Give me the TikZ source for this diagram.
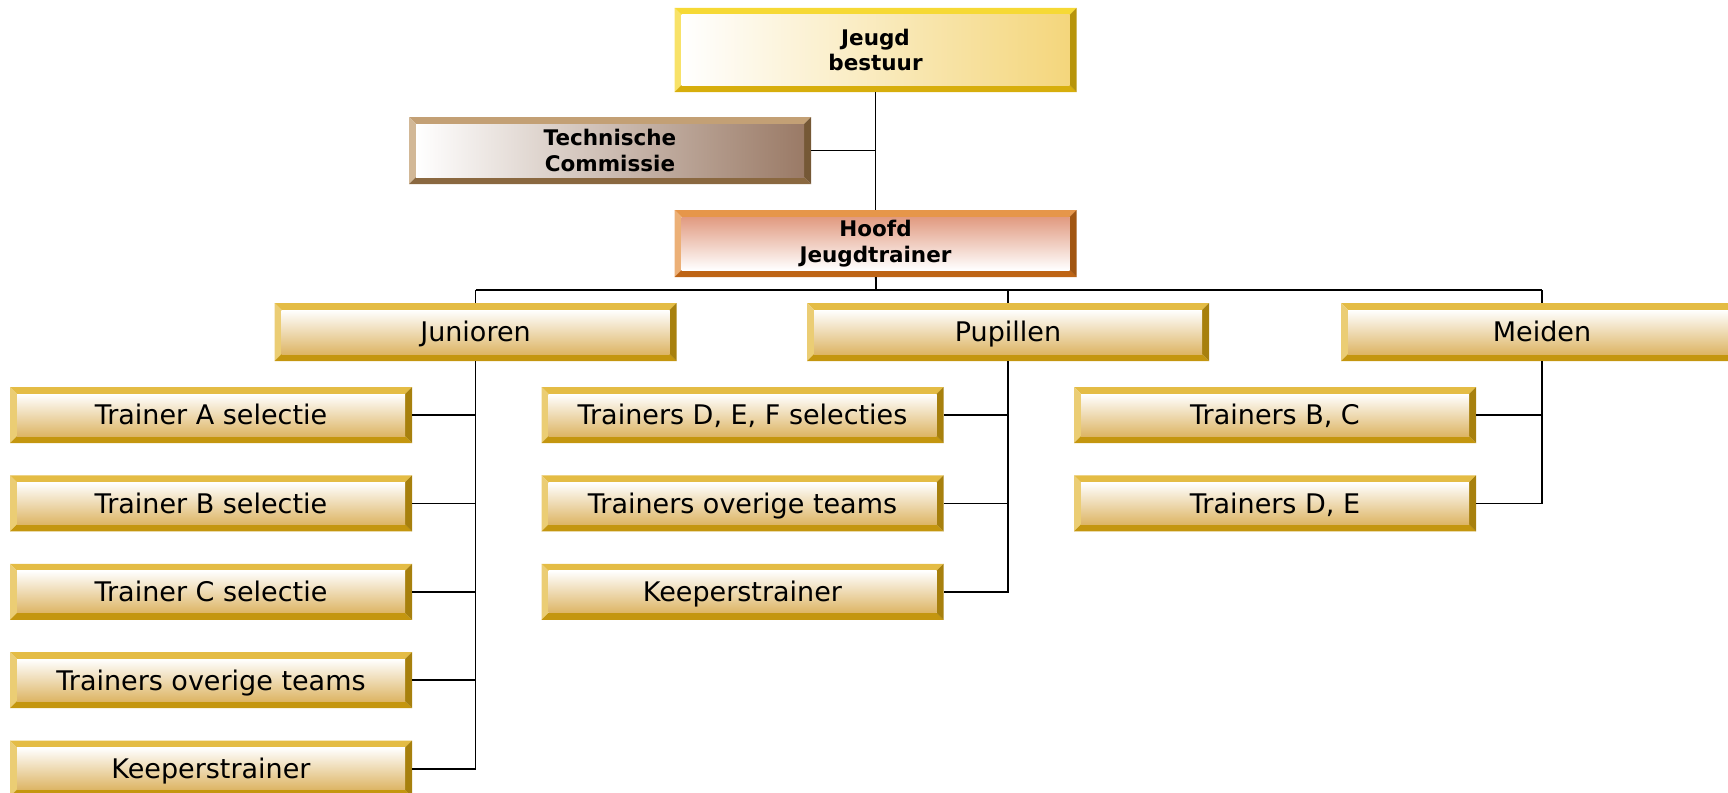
\documentclass[tikz,border=0pt]{standalone}
\usepackage{fontspec}
\setmainfont{DejaVu Sans}
\usetikzlibrary{positioning}

\definecolor{goldL}{HTML}{E4BC45}
\definecolor{goldD}{HTML}{C4960F}
\definecolor{goldT}{HTML}{DDB565}
\definecolor{yelL}{HTML}{F6D935}
\definecolor{yelD}{HTML}{D7AE0C}
\definecolor{yelT}{HTML}{F4D67C}
\definecolor{oraL}{HTML}{E6964A}
\definecolor{oraD}{HTML}{BE6414}
\definecolor{oraT}{HTML}{E19A80}
\definecolor{broL}{HTML}{C3A075}
\definecolor{broD}{HTML}{8A6840}
\definecolor{broT}{HTML}{9A7A66}

\tikzset{
  plaque/.style n args={3}{inner sep=0pt, text=black,
    path picture={
      \path (path picture bounding box.south west) coordinate (pSW)
            (path picture bounding box.south east) coordinate (pSE)
            (path picture bounding box.north west) coordinate (pNW)
            (path picture bounding box.north east) coordinate (pNE);
      \fill[#1] (pNW) -- (pNE) -- ([shift={(-7pt,-7pt)}]pNE) -- ([shift={(7pt,-7pt)}]pNW) -- cycle;
      \fill[#1!75!white] (pNW) -- (pSW) -- ([shift={(7pt,7pt)}]pSW) -- ([shift={(7pt,-7pt)}]pNW) -- cycle;
      \fill[#2] (pSW) -- (pSE) -- ([shift={(-7pt,7pt)}]pSE) -- ([shift={(7pt,7pt)}]pSW) -- cycle;
      \fill[#2!85!black] (pSE) -- (pNE) -- ([shift={(-7pt,-7pt)}]pNE) -- ([shift={(-7pt,7pt)}]pSE) -- cycle;
      \shade[#3] ([shift={(7pt,7pt)}]pSW) rectangle ([shift={(-7pt,-7pt)}]pNE);
    }},
  member/.style={plaque={goldL}{goldD}{top color=white, middle color=white!93!goldT, bottom color=goldT},
    minimum width=402pt, minimum height=56pt, text height=19.7pt, text depth=0pt,
    font=\fontsize{27}{32}\selectfont},
  board/.style={minimum width=402pt, minimum height=67pt, align=center,
    font=\bfseries\fontsize{21.5}{25.5}\selectfont},
  link/.style={draw=black, line width=1.8pt}
}

\begin{document}
\begin{tikzpicture}[x=1pt,y=-1pt]
\useasboundingbox (0,0) rectangle (1728,792);

% top of the tree
\node[board, minimum height=84pt, plaque={yelL}{yelD}{left color=white, middle color=white!90!yelT, right color=yelT}]
  (jb) at (875.5,50) {Jeugd\\bestuur};
\node[board, plaque={broL}{broD}{left color=white, middle color=white!80!broT, right color=broT}]
  (tc) at (610,150.5) {Technische\\Commissie};
\node[board, plaque={oraL}{oraD}{top color=oraT, middle color=white!60!oraT, bottom color=white}]
  (hj) at (875.5,243.5) {Hoofd\\Jeugdtrainer};
\coordinate (bus) at (876,290);

% groups
\node[member, minimum height=58pt] (jun) at (475.5,332) {Junioren};
\node[member, minimum height=58pt] (pup) at (1008,332) {Pupillen};
\node[member, minimum height=58pt] (mei) at (1542,332) {Meiden};

% junioren
\node[member] (ja) at (211,415) {Trainer A selectie};
\node[member] (jbs) [below=32pt of ja] {Trainer B selectie};
\node[member] (jc) [below=32pt of jbs] {Trainer C selectie};
\node[member] (jo) [below=32pt of jc] {Trainers overige teams};
\node[member] (jk) [below=32pt of jo] {Keeperstrainer};

% pupillen
\node[member] (pd) at (742.5,415) {Trainers D, E, F selecties};
\node[member] (po) [below=32pt of pd] {Trainers overige teams};
\node[member] (pk) [below=32pt of po] {Keeperstrainer};

% meiden
\node[member] (mb) at (1275,415) {Trainers B, C};
\node[member] (md) [below=32pt of mb] {Trainers D, E};

\path[link]
(jb) edge (hj)
(tc.east) edge (tc.east -| jb.south)
(hj) edge (bus)
(jun.north |- bus) edge (mei.north |- bus)
(jun.north |- bus) edge (jun.north)
(pup.north |- bus) edge (pup.north)
(mei.north |- bus) edge (mei.north);

\draw[link] (jun.south) -- (jun.south |- jk.east) -- (jk.east);
\draw[link] (pup.south) -- (pup.south |- pk.east) -- (pk.east);
\draw[link] (mei.south) -- (mei.south |- md.east) -- (md.east);
\foreach \c in {ja,jbs,jc,jo}
  \draw[link] (\c.east) -- (\c.east -| jun.south);
\foreach \c in {pd,po}
  \draw[link] (\c.east) -- (\c.east -| pup.south);
\draw[link] (mb.east) -- (mb.east -| mei.south);
\end{tikzpicture}
\end{document}
